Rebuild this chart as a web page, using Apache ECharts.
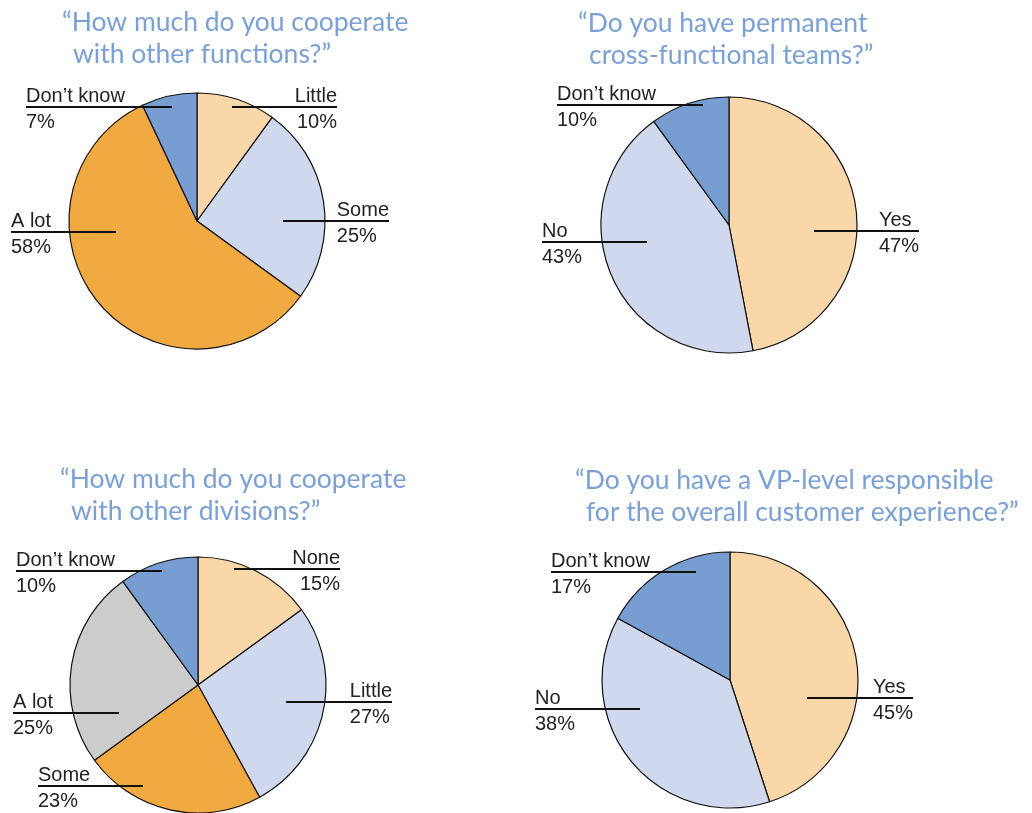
<!DOCTYPE html>
<html>
<head>
<meta charset="utf-8">
<script src="https://cdn.jsdelivr.net/npm/echarts@6/dist/echarts.min.js"></script>
<style>
html,body{margin:0;padding:0;background:#fff;}
#c{width:1032px;height:813px;}
</style>
</head>
<body>
<div id="c"></div>
<script>
// ---- data ----
const titles = [
  ['\u201CHow much do you cooperate', 'with other functions?\u201D'],
  ['\u201CDo you have permanent', 'cross-functional teams?\u201D'],
  ['\u201CHow much do you cooperate', 'with other divisions?\u201D'],
  ['\u201CDo you have a VP-level responsible', 'for the overall customer experience?\u201D']
];
const cats1 = ['Little', 'Some', 'A lot', 'Don\u2019t know'];
const vals1 = [10, 25, 58, 7];
const cats2 = ['Yes', 'No', 'Don\u2019t know'];
const vals2 = [47, 43, 10];
const cats3 = ['None', 'Little', 'Some', 'A lot', 'Don\u2019t know'];
const vals3 = [15, 27, 23, 25, 10];
const cats4 = ['Yes', 'No', 'Don\u2019t know'];
const vals4 = [45, 38, 17];

// ---- styles / layout ----
const colors1 = ['#FAD7A8', '#CFD8EC', '#F1A941', '#789DD1'];
const colors2 = ['#FAD7A8', '#CFD8EC', '#789DD1'];
const colors3 = ['#FAD7A8', '#CFD8EC', '#F1A941', '#CCCCCC', '#789DD1'];
const colors4 = ['#FAD7A8', '#CFD8EC', '#789DD1'];

const centers = [[197, 221], [729, 225], [198, 685], [730, 680]];
const radius = 128;
// per label: [lineDy, innerDx, outerDx, mode] relative to pie center
const labelLayouts = [
  [[-114, 35, 140, 'R'], [0, 86, 192, 'RL'], [11, -81, -186, 'L'], [-114, -25, -171, 'L']],
  [[6, 85, 190, 'RL'], [17, -82, -187, 'L'], [-120, -26, -172, 'L']],
  [[-116, 36, 142, 'R'], [17, 88, 194, 'RL'], [101, -55, -160, 'L'], [28, -79, -185, 'L'], [-114, -36, -182, 'L']],
  [[18, 77, 183, 'RL'], [29, -90, -195, 'L'], [-108, -34, -179, 'L']]
];
const titlePos = [[62, 6], [578, 7], [60, 463], [575, 464]];

const sets = [
  [cats1, vals1, colors1],
  [cats2, vals2, colors2],
  [cats3, vals3, colors3],
  [cats4, vals4, colors4]
];

const labelFont = 'Liberation Sans, Arial, sans-serif';
const titleFont = 'Lato, sans-serif';

const chart = echarts.init(document.getElementById('c'), null, {renderer: 'canvas'});

const titleOpts = titles.map((t, i) => ({
  left: titlePos[i][0],
  top: titlePos[i][1],
  padding: 0,
  text: t[0] + '\n{p| }' + t[1],
  textStyle: {
    fontFamily: titleFont,
    fontSize: 26.5,
    fontWeight: 'normal',
    color: '#7BA0D6',
    lineHeight: 32,
    rich: {
      p: {width: 11, fontSize: 26.5, fontFamily: titleFont, lineHeight: 32}
    }
  }
}));

const seriesOpts = [];
sets.forEach((s, k) => {
  const [cats, vals, cols] = s;
  const cx = centers[k][0], cy = centers[k][1];
  const base = {
    type: 'pie',
    center: [cx, cy],
    radius: [0, radius],
    startAngle: 90,
    clockwise: true,
    silent: true,
    animation: false
  };
  // slices
  seriesOpts.push(Object.assign({}, base, {
    z: 2,
    data: cats.map((c, i) => ({name: c, value: vals[i], itemStyle: {color: cols[i]}})),
    itemStyle: {borderColor: '#111', borderWidth: 1.2},
    label: {show: false},
    labelLine: {show: false}
  }));
  // labels + leader lines on top
  seriesOpts.push(Object.assign({}, base, {
    z: 5,
    data: cats.map((c, i) => ({name: c, value: vals[i]})),
    itemStyle: {color: 'rgba(0,0,0,0)', borderWidth: 0},
    label: {
      show: true,
      position: 'outside',
      formatter: (p) => '{n|' + p.name + '}\n{v|' + p.value + '%}',
      color: '#222',
      fontFamily: labelFont,
      fontSize: 20,
      lineHeight: 26,
      rich: {
        n: {fontFamily: labelFont, fontSize: 20, lineHeight: 26, color: '#222'},
        v: {fontFamily: labelFont, fontSize: 20, lineHeight: 26, color: '#222'}
      }
    },
    labelLine: {show: true, lineStyle: {color: '#111', width: 2}, length: 10, length2: 10},
    labelLayout: function (params) {
      const L = labelLayouts[k][params.dataIndex];
      const ly = cy + L[0];
      const x0 = cx + L[1];
      const x1 = cx + L[2];
      const w = params.labelRect.width;
      let x, align;
      if (L[3] === 'L') { x = x1; align = 'left'; }
      else if (L[3] === 'R') { x = x1; align = 'right'; }
      else { x = x1 - w; align = 'left'; }
      return {
        x: x,
        y: ly + 2,
        align: align,
        verticalAlign: 'middle',
        labelLinePoints: [[x0, ly], [x1, ly]]
      };
    }
  }));
});

chart.setOption({
  animation: false,
  backgroundColor: '#ffffff',
  title: titleOpts,
  series: seriesOpts
});
</script>
</body>
</html>
